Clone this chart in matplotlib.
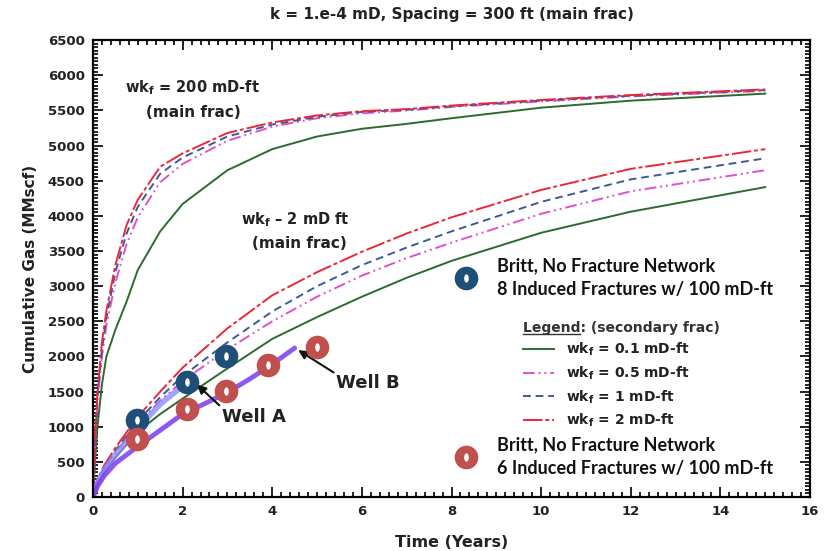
import numpy as np
import matplotlib.pyplot as plt
from matplotlib.ticker import MultipleLocator
from matplotlib.legend_handler import HandlerTuple
from matplotlib.lines import Line2D

plt.rcParams['font.family'] = ['DejaVu Sans']
plt.rcParams['font.weight'] = 'bold'
plt.rcParams['mathtext.fontset'] = 'custom'
plt.rcParams['mathtext.rm'] = 'DejaVu Sans:bold'
plt.rcParams['mathtext.bf'] = 'DejaVu Sans:bold'

# main frac wkf = 200 mD-ft
t_hi = [0, 0.05, 0.1, 0.2, 0.3, 0.5, 0.75, 1.0, 1.5, 2, 3, 4, 5, 6, 7, 8, 10, 12, 15]
hi_01 = [0, 550, 1000, 1600, 2000, 2380, 2780, 3230, 3780, 4170, 4650, 4950, 5130, 5240, 5310, 5390, 5540, 5640, 5740]
hi_05 = [0, 800, 1350, 2000, 2450, 3050, 3600, 3980, 4480, 4740, 5070, 5270, 5390, 5460, 5500, 5550, 5630, 5700, 5780]
hi_1 = [0, 850, 1420, 2100, 2550, 3200, 3750, 4130, 4600, 4830, 5130, 5300, 5410, 5480, 5510, 5560, 5640, 5710, 5790]
hi_2 = [0, 900, 1500, 2200, 2650, 3300, 3870, 4230, 4700, 4890, 5180, 5330, 5430, 5490, 5520, 5570, 5650, 5720, 5800]

# main frac wkf = 2 mD-ft
t_lo = [0, 0.1, 0.25, 0.5, 1, 1.5, 2, 3, 4, 5, 6, 7, 8, 10, 12, 15]
lo_01 = [0, 200, 360, 560, 930, 1180, 1400, 1830, 2250, 2560, 2850, 3120, 3360, 3760, 4060, 4410]
lo_05 = [0, 220, 400, 630, 1040, 1370, 1650, 2100, 2500, 2850, 3150, 3400, 3620, 4030, 4350, 4650]
lo_1 = [0, 230, 420, 660, 1080, 1420, 1720, 2200, 2640, 3000, 3300, 3550, 3780, 4200, 4520, 4820]
lo_2 = [0, 250, 450, 700, 1140, 1500, 1840, 2400, 2870, 3200, 3490, 3750, 3980, 4370, 4670, 4950]

# field data
t_wellA = [0, 0.1, 0.25, 0.5, 1, 1.5, 2, 2.2]
wellA = [0, 200, 380, 600, 980, 1320, 1580, 1650]
t_wellB = [0, 0.1, 0.25, 0.5, 1, 1.5, 2, 2.5, 3, 3.5, 4, 4.5]
wellB = [0, 150, 300, 480, 720, 950, 1180, 1330, 1490, 1680, 1890, 2120]

# Britt model points
t_britt8 = [0.98, 2.1, 2.97]
q_britt8 = [1095, 1635, 2005]
t_britt6 = [0.98, 2.1, 2.97, 3.9, 5.0]
q_britt6 = [825, 1250, 1510, 1875, 2130]

labels = ['wk$_\\mathregular{f}$ = 0.1 mD-ft', 'wk$_\\mathregular{f}$ = 0.5 mD-ft',
          'wk$_\\mathregular{f}$ = 1 mD-ft', 'wk$_\\mathregular{f}$ = 2 mD-ft']
colors = ['#2d6a2d', '#e050c8', '#3b5b98', '#e8283a']
styles = ['-', (0, (6, 2, 1, 2, 1, 2)), (0, (4, 2.5)), (0, (10, 1.5, 2, 1.5))]

fig = plt.figure(figsize=(8.3, 5.51), dpi=100)
ax = fig.add_axes([0.112, 0.098, 0.864, 0.829])

handles = []
for hi, lo, c, ls, lab in zip([hi_01, hi_05, hi_1, hi_2], [lo_01, lo_05, lo_1, lo_2],
                              colors, styles, labels):
    h, = ax.plot(t_hi, hi, color=c, ls=ls, lw=1.4, label=lab)
    ax.plot(t_lo, lo, color=c, ls=ls, lw=1.4)
    handles.append(h)

ax.plot(t_wellA, wellA, color='#8a8cff', lw=4, alpha=0.8, solid_capstyle='round')
ax.plot(t_wellB, wellB, color='#7a3cf0', lw=3.5, alpha=0.85, solid_capstyle='round')

th = np.linspace(0, 2 * np.pi, 40)
hole = np.column_stack([0.55 * np.cos(th), np.sin(th)])
b8, = ax.plot(t_britt8, q_britt8, 'o', ms=17, color='#1f4e79', mec='none', zorder=5)
b8h, = ax.plot(t_britt8, q_britt8, ls='none', marker=hole, ms=6, color='white', mec='none', zorder=6)
b6, = ax.plot(t_britt6, q_britt6, 'o', ms=17, color='#c0504d', mec='none', zorder=5)
b6h, = ax.plot(t_britt6, q_britt6, ls='none', marker=hole, ms=6, color='white', mec='none', zorder=6)

ax.set_xlim(0, 16)
ax.set_ylim(0, 6500)
ax.xaxis.set_major_locator(MultipleLocator(2))
ax.xaxis.set_minor_locator(MultipleLocator(0.2))
ax.yaxis.set_major_locator(MultipleLocator(500))
ax.yaxis.set_minor_locator(MultipleLocator(50))
ax.tick_params(which='both', direction='in', top=True, right=True, width=1.3, colors='#111')
ax.tick_params(which='major', length=7, labelsize=9.5, pad=6)
ax.tick_params(which='minor', length=3.5)
for lbl in ax.get_xticklabels() + ax.get_yticklabels():
    lbl.set_fontweight('bold')
    lbl.set_color('#222')
for s in ax.spines.values():
    s.set_linewidth(1.6)

ax.set_title('k = 1.e-4 mD, Spacing = 300 ft (main frac)', fontsize=11, fontweight='bold',
             color='#222', pad=15)
ax.set_xlabel('Time (Years)', fontsize=11.5, fontweight='bold', color='#222', labelpad=12)
ax.set_ylabel('Cumulative Gas (MMscf)', fontsize=11, fontweight='bold', color='#222', labelpad=7)

txt = dict(fontweight='bold', color='#222', ha='center', va='center')
ax.text(2.21, 5818, 'wk$_\\mathregular{f}$ = 200 mD-ft', fontsize=10.5, **txt)
ax.text(2.25, 5477, '(main frac)', fontsize=11, **txt)
ax.text(4.51, 3940, 'wk$_\\mathregular{f}$ \u2013 2 mD ft', fontsize=10.5, **txt)
ax.text(4.6, 3613, '(main frac)', fontsize=11, **txt)

ax.annotate('Well A', xy=(2.32, 1600), xytext=(2.88, 1140), fontsize=13, fontweight='bold',
            color='#222', va='center',
            arrowprops=dict(arrowstyle='-|>', color='#111', lw=1.5, shrinkA=0, shrinkB=0,
                            relpos=(0, 1)))
ax.annotate('Well B', xy=(4.58, 2090), xytext=(5.43, 1620), fontsize=13, fontweight='bold',
            color='#222', va='center',
            arrowprops=dict(arrowstyle='-|>', color='#111', lw=1.5, shrinkA=0, shrinkB=0,
                            relpos=(0, 1)))

leg = ax.legend(handles=handles, loc='upper left', bbox_to_anchor=(0.599, 0.386),
                frameon=False, prop=dict(size=10, weight='bold'), handlelength=2.3,
                handletextpad=0.8, labelspacing=0.45, borderpad=0, borderaxespad=0,
                title='Legend: (secondary frac)',
                title_fontproperties=dict(size=10, weight='bold'), alignment='left')
leg.get_title().set_color('#333')
for t in leg.get_texts():
    t.set_color('#222')
ax.add_artist(leg)

bfont = dict(family=['Lato', 'DejaVu Sans'], size=13, weight='bold')
leg8 = ax.legend([(b8, b8h)], ['Britt, No Fracture Network\n8 Induced Fractures w/ 100 mD-ft'],
                 handler_map={tuple: HandlerTuple(ndivide=1)}, loc='center left',
                 bbox_to_anchor=(0.502, 0.481), frameon=False, prop=bfont,
                 handlelength=1.5, handletextpad=0.95, borderpad=0, borderaxespad=0)
ax.add_artist(leg8)
leg6 = ax.legend([(b6, b6h)], ['Britt, No Fracture Network\n6 Induced Fractures w/ 100 mD-ft'],
                 handler_map={tuple: HandlerTuple(ndivide=1)}, loc='center left',
                 bbox_to_anchor=(0.502, 0.088), frameon=False, prop=bfont,
                 handlelength=1.5, handletextpad=0.95, borderpad=0, borderaxespad=0)
for lg in (leg8, leg6):
    for t in lg.get_texts():
        t.set_linespacing(1.5)
        t.set_color('#111')

# underline the word "Legend" in the legend title
fig.canvas.draw()
r = fig.canvas.get_renderer()
tt = leg.get_title()
bb = tt.get_window_extent(r)
probe = fig.text(0, 0, 'Legend', fontsize=10, fontweight='bold')
wpx = probe.get_window_extent(r).width
probe.remove()
fig.add_artist(Line2D([bb.x0 / fig.bbox.width, (bb.x0 + wpx) / fig.bbox.width],
                      [(bb.y0 + 1) / fig.bbox.height] * 2, color='#333', lw=1.0))

fig.savefig('out.png', dpi=100)
